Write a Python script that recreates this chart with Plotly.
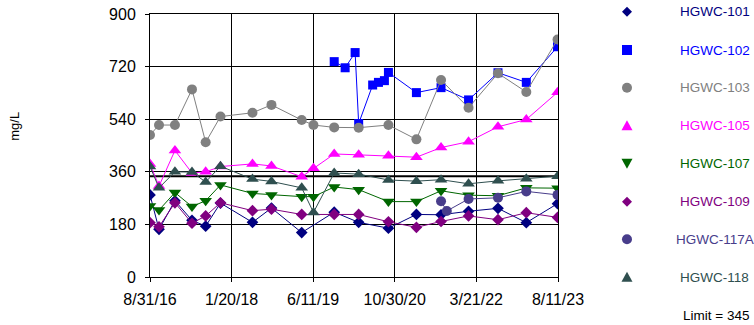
import plotly.graph_objects as go

# ---- data ----
EV = ["2016-08-31", "2016-10-26", "2017-02-02", "2017-05-19", "2017-08-12",
      "2017-11-12", "2018-05-30", "2018-09-25", "2019-04-01", "2019-06-13",
      "2019-10-20", "2020-03-20", "2020-09-21", "2021-03-14", "2021-08-14",
      "2022-02-01", "2022-08-03", "2023-01-26", "2023-08-08"]
EV_NO_JUN19 = EV[:9] + EV[10:]

dates_101 = EV_NO_JUN19
vals_101 = [281, 163, 261, 194, 174, 253, 187, 236, 152, 222, 187, 167, 214, 213, 225, 235, 186, 251]

dates_102 = ["2019-10-20", "2019-12-27", "2020-02-27", "2020-03-20", "2020-06-15",
             "2020-07-21", "2020-08-27", "2020-09-21", "2021-03-14", "2021-08-14",
             "2022-02-01", "2022-08-03", "2023-01-26", "2023-08-08"]
vals_102 = [737, 716, 768, 525, 657, 666, 672, 700, 631, 648, 606, 699, 666, 788]

dates_103 = EV
vals_103 = [486, 520, 520, 642, 461, 549, 562, 589, 537, 520, 512, 511, 520, 471,
            674, 579, 697, 633, 813]

dates_105 = EV
vals_105 = [387, 311, 433, 356, 360, 378, 387, 380, 343, 372, 421, 418, 415, 410,
            443, 463, 514, 539, 632]

dates_107 = EV
vals_107 = [243, 229, 289, 241, 261, 315, 286, 281, 275, 275, 308, 299, 258, 258,
            295, 280, 278, 305, 304]

dates_109 = EV_NO_JUN19
vals_109 = [186, 172, 254, 184, 209, 254, 227, 232, 214, 214, 214, 189, 170, 190,
            209, 196, 220, 204]

dates_117A = ["2021-08-14", "2021-09-19", "2022-02-01", "2022-08-03", "2023-01-26", "2023-08-08"]
vals_117A = [259, 226, 267, 271, 293, 281]

dates_118 = EV
vals_118 = [378, 305, 360, 359, 325, 379, 335, 327, 305, 221, 356, 352, 332, 328,
            333, 319, 329, 336, 345]

LIMIT = 345
X_START, X_END = "2016-08-31", "2023-08-11"
x_tickvals = ["2016-08-31", "2018-01-20", "2019-06-11", "2020-10-30", "2022-03-21", "2023-08-11"]
x_ticktext = ["8/31/16", "1/20/18", "6/11/19", "10/30/20", "3/21/22", "8/11/23"]
y_tickvals = [0, 180, 360, 540, 720, 900]

series = [
    ("HGWC-101", dates_101, vals_101, "#000080", "diamond", 9),
    ("HGWC-102", dates_102, vals_102, "#0000FF", "square", 9),
    ("HGWC-103", dates_103, vals_103, "#808080", "circle", 10),
    ("HGWC-105", dates_105, vals_105, "#FF00FF", "triangle-up", 11),
    ("HGWC-107", dates_107, vals_107, "#006600", "triangle-down", 11),
    ("HGWC-109", dates_109, vals_109, "#800080", "diamond", 9),
    ("HGWC-117A", dates_117A, vals_117A, "#483D8B", "circle", 10),
    ("HGWC-118", dates_118, vals_118, "#2F4F4F", "triangle-up", 11),
]

fig = go.Figure()

# limit line
fig.add_trace(go.Scatter(x=[X_START, X_END], y=[LIMIT, LIMIT], mode="lines",
                         line=dict(color="black", width=2), showlegend=False,
                         hoverinfo="skip"))

for name, d, v, c, sym, sz in series:
    fig.add_trace(go.Scatter(x=d, y=v, mode="lines+markers", name=name,
                             line=dict(color=c, width=1),
                             marker=dict(color=c, symbol=sym, size=sz),
                             showlegend=False))

# ---- manual legend (layout decoration) ----
legend_rows = [1.00875, 0.8631, 0.7198, 0.5753, 0.4323, 0.2863, 0.1433, -0.0011]
LEG_SYM_X = 1.1691
LEG_TXT_X = 1.3848
sym_paths = {
    "diamond": "M-5,0 L0,5 L5,0 L0,-5 Z",
    "triangle-up": "M-5.5,-4.5 L5.5,-4.5 L0,5.5 Z",
    "triangle-down": "M-5.5,4.5 L5.5,4.5 L0,-5.5 Z",
}
shapes = []
annotations = []
for (name, d, v, c, sym, sz), ly in zip(series, legend_rows):
    base = dict(xref="paper", yref="paper", xsizemode="pixel", ysizemode="pixel",
                xanchor=LEG_SYM_X, yanchor=ly, fillcolor=c, line=dict(width=0))
    if sym in sym_paths:
        shapes.append(dict(type="path", path=sym_paths[sym], **base))
    elif sym == "square":
        shapes.append(dict(type="rect", x0=-5, x1=5, y0=-5, y1=5, **base))
    else:
        shapes.append(dict(type="circle", x0=-5, x1=5, y0=-5, y1=5, **base))
    annotations.append(dict(text=name, xref="paper", yref="paper", x=LEG_TXT_X, y=ly,
                            xanchor="center", yanchor="middle", showarrow=False,
                            font=dict(size=13.5, color=c)))

annotations += [
    dict(text="mg/L", xref="paper", yref="paper", x=-0.3309, y=0.575,
         xanchor="center", yanchor="middle",
         showarrow=False, textangle=-90, font=dict(size=13)),
    dict(text="Limit = 345", xref="paper", yref="paper", x=1.3873, y=-0.1445,
         xanchor="center", yanchor="middle", showarrow=False,
         font=dict(size=13.5)),
]

fig.update_layout(
    width=754, height=325,
    margin=dict(l=150, r=196, t=14, b=48, autoexpand=False),
    paper_bgcolor="white", plot_bgcolor="white",
    font=dict(family="Liberation Sans, Arial, sans-serif", color="black"),
    showlegend=False,
    xaxis=dict(type="date", range=[X_START, X_END], tickvals=x_tickvals,
               ticktext=x_ticktext, tickfont=dict(size=16), automargin=False,
               showgrid=True, gridcolor="black", gridwidth=1,
               ticks="outside", ticklen=4, tickcolor="black",
               showline=True, linecolor="black", linewidth=1, mirror=True,
               zeroline=False, ticklabelstandoff=4),
    yaxis=dict(range=[0, 900], tickvals=y_tickvals, tickfont=dict(size=16),
               automargin=False,
               showgrid=True, gridcolor="black", gridwidth=1,
               ticks="outside", ticklen=4, tickcolor="black",
               showline=True, linecolor="black", linewidth=1, mirror=True,
               zeroline=False, ticklabelstandoff=6, ticklabeloverflow="allow"),
    shapes=shapes,
    annotations=annotations,
)

fig.write_html("out.html", config={"displayModeBar": False},
               post_script="document.body.style.margin='0';document.body.style.overflow='hidden';")
